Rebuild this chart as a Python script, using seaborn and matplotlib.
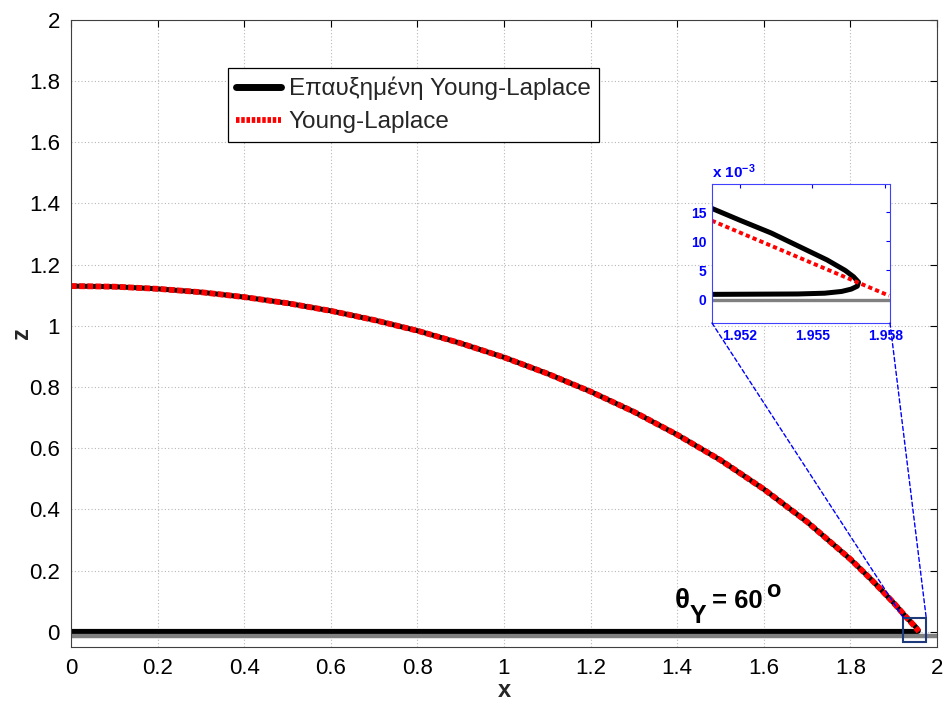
import numpy as np
import pandas as pd
import matplotlib
matplotlib.use("Agg")
import matplotlib.pyplot as plt
import seaborn as sns
from matplotlib.patches import Rectangle, ConnectionPatch
from matplotlib.lines import Line2D

sns.set_theme(style="white")
plt.rcParams['font.family'] = ['Liberation Sans', 'DejaVu Sans']
plt.rcParams['mathtext.fontset'] = 'custom'
plt.rcParams['mathtext.rm'] = 'Liberation Sans'
plt.rcParams['mathtext.bf'] = 'Liberation Sans:bold'
plt.rcParams['mathtext.it'] = 'Liberation Sans:italic'

# ---------------- data ----------------
# drop profile (main view)
profile_x = [0.0, 0.1, 0.2, 0.3, 0.4, 0.5, 0.6, 0.7, 0.8, 0.9, 1.0, 1.1, 1.2,
             1.3, 1.4, 1.5, 1.6, 1.7, 1.8, 1.85, 1.9, 1.93]
profile_z = [1.130, 1.128, 1.121, 1.110, 1.094, 1.074, 1.049, 1.019, 0.984,
             0.943, 0.897, 0.844, 0.785, 0.719, 0.644, 0.561, 0.466, 0.359,
             0.237, 0.168, 0.094, 0.046]
# Young-Laplace near the contact line
yl_tip_x = [1.9508, 1.95816]
yl_tip_z = [0.0136, 0.00068]
# augmented Young-Laplace near the contact line (upper branch, nose, lower branch)
ayl_tip_x = [1.9508, 1.9520, 1.9533, 1.9545, 1.9556, 1.95635, 1.9567, 1.9569,
             1.95685, 1.9566, 1.9562, 1.9555, 1.9544, 1.9508, 0.0]
ayl_tip_z = [0.0157, 0.0136, 0.0114, 0.0090, 0.0068, 0.0050, 0.0039, 0.0030,
             0.0023, 0.0018, 0.0014, 0.0011, 0.00097, 0.0009, 0.0009]
# substrate
substrate_x = [0.0, 2.0]
substrate_z_main = [-0.013, -0.013]
substrate_z_inset = [0.0, 0.0]

legend_labels = ['Επαυξημένη Young-Laplace', 'Young-Laplace']

main_xticks = [0, 0.2, 0.4, 0.6, 0.8, 1, 1.2, 1.4, 1.6, 1.8, 2]
main_yticks = [0, 0.2, 0.4, 0.6, 0.8, 1, 1.2, 1.4, 1.6, 1.8, 2]
inset_xticks = [1.952, 1.955, 1.958]
inset_yticks = [0, 0.005, 0.010, 0.015]
inset_yticklabels = ['0', '5', '10', '15']

black_x = profile_x + ayl_tip_x
black_z = profile_z + ayl_tip_z
red_x = profile_x + yl_tip_x
red_z = profile_z + yl_tip_z

df_black = pd.DataFrame({'x': black_x, 'z': black_z})
df_red = pd.DataFrame({'x': red_x, 'z': red_z})
df_sub_main = pd.DataFrame({'x': substrate_x, 'z': substrate_z_main})
df_sub_inset = pd.DataFrame({'x': substrate_x, 'z': substrate_z_inset})

# ---------------- figure ----------------
fig = plt.figure(figsize=(9.46, 7.06), dpi=100)
ax = fig.add_axes([0.075, 0.0836, 0.9155, 0.8881])

sns.lineplot(data=df_sub_main, x='x', y='z', ax=ax, color='#808080', lw=3.2,
             sort=False, estimator=None)
sns.lineplot(data=df_black, x='x', y='z', ax=ax, color='black', lw=3.6,
             sort=False, estimator=None, solid_capstyle='butt')
sns.lineplot(data=df_red, x='x', y='z', ax=ax, color='#ff0000', lw=4.2,
             sort=False, estimator=None, linestyle=(0, (1.0, 0.4)),
             dash_capstyle='butt')

ax.set_xlim(0, 2)
ax.set_ylim(-0.05, 2)
ax.set_xticks(main_xticks)
ax.set_yticks(main_yticks)
ax.set_xticklabels([f'{t:g}' for t in main_xticks])
ax.set_yticklabels([f'{t:g}' for t in main_yticks])
ax.tick_params(direction='in', length=5, width=0.8, labelsize=16, colors='black',
               top=True, right=True, pad=8)
ax.grid(True, linestyle=(0, (1, 2)), color='#b8b8b8', lw=0.8)
for s in ax.spines.values():
    s.set_color('#404040')
    s.set_linewidth(0.8)
ax.set_xlabel('x', fontsize=17, fontweight='bold', labelpad=0)
ax.set_ylabel('z', fontsize=17, fontweight='bold', labelpad=-3)

# annotation  θ_Y = 60 °
anchor = (1.395, 0.079)
tkw = dict(xycoords='data', textcoords='offset points',
           fontweight='bold', ha='left', va='baseline', color='black')
ax.annotate('θ', xy=anchor, xytext=(0, 0), fontsize=20, **tkw)
ax.annotate('Y', xy=anchor, xytext=(10.8, -10.8), fontsize=18, **tkw)
ax.annotate('= 60', xy=anchor, xytext=(26.6, 0), fontsize=18.5, **tkw)
ax.annotate('o', xy=anchor, xytext=(65.5, 7.5), fontsize=17, **tkw)

# zoom box
box = Rectangle((1.922, -0.033), 0.053, 0.079, fill=False, ec='#1f3a7a', lw=1.5,
                zorder=5)
ax.add_patch(box)

handles = [Line2D([], [], color='black', lw=5),
           Line2D([], [], color='#ff0000', lw=4.2, linestyle=(0, (0.6, 0.3)))]
leg = ax.legend(handles, legend_labels, loc='upper left',
                bbox_to_anchor=(0.181, 0.9234), borderaxespad=0,
                fancybox=False, edgecolor='black', framealpha=1, fontsize=17.5,
                handlelength=1.85, handletextpad=0.3, borderpad=0.36,
                labelspacing=0.45)
leg.get_frame().set_linewidth(0.9)

# ---------------- inset ----------------
axi = fig.add_axes([0.7526, 0.5425, 0.1882, 0.1969])
sns.lineplot(data=df_sub_inset, x='x', y='z', ax=axi, color='#808080', lw=2.4,
             sort=False, estimator=None)
sns.lineplot(data=df_black, x='x', y='z', ax=axi, color='black', lw=3.6,
             sort=False, estimator=None)
sns.lineplot(data=df_red, x='x', y='z', ax=axi, color='#ff0000', lw=2.8,
             sort=False, estimator=None, linestyle=(0, (1.1, 0.8)),
             dash_capstyle='butt')
axi.set_xlim(1.95085, 1.9582)
axi.set_ylim(-0.004, 0.0198)
axi.set_xticks(inset_xticks)
axi.set_xticklabels([f'{t:.3f}' for t in inset_xticks])
axi.set_yticks(inset_yticks)
axi.set_yticklabels(inset_yticklabels)
axi.set_xlabel('')
axi.set_ylabel('')
axi.tick_params(direction='in', length=3, width=0.8, colors='#0000ff',
                labelsize=10, top=True, right=True, pad=4)
for lab in axi.get_xticklabels() + axi.get_yticklabels():
    lab.set_fontweight('bold')
for s in axi.spines.values():
    s.set_color('#4040ff')
    s.set_linewidth(0.8)
axi.set_facecolor('white')
axi.text(0.0, 1.043, r'$\mathbf{x\ 10^{-3}}$', transform=axi.transAxes,
         color='#0000ff', fontsize=11, ha='left', va='baseline')

# connector lines
for xa, xb in [(1.95085, 1.922), (1.9582, 1.975)]:
    con = ConnectionPatch(xyA=(xa, -0.004), coordsA=axi.transData,
                          xyB=(xb, 0.046), coordsB=ax.transData,
                          color='#0000ff', lw=1.0, linestyle=(0, (3, 2)),
                          zorder=10)
    fig.add_artist(con)

fig.savefig('out.png', dpi=100)
